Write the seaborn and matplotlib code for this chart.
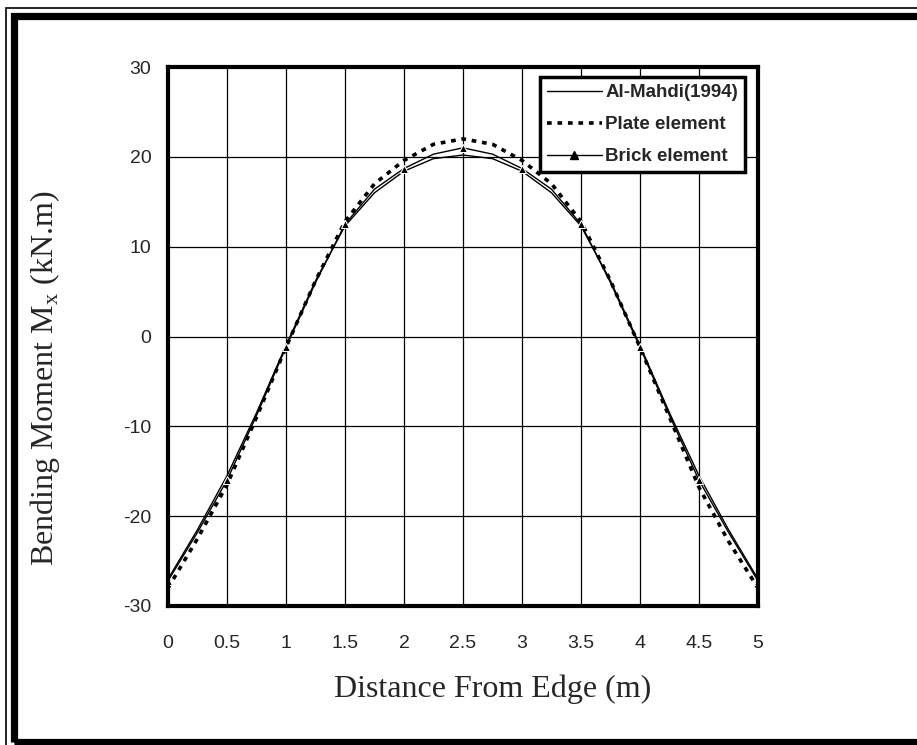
import matplotlib
matplotlib.use("Agg")
import matplotlib.pyplot as plt
import seaborn as sns
import pandas as pd
from matplotlib.patches import Rectangle
from matplotlib.lines import Line2D

# distance from edge (m), read at 0.25 m steps
distance = [0, 0.25, 0.5, 0.75, 1, 1.25, 1.5, 1.75, 2, 2.25, 2.5,
            2.75, 3, 3.25, 3.5, 3.75, 4, 4.25, 4.5, 4.75, 5]
al_mahdi = [-27.0, -21.5, -15.5, -8.5, -1.0, 6.2, 12.3, 16.0, 18.4, 19.8, 20.2,
            19.8, 18.4, 16.0, 12.3, 6.2, -1.0, -8.5, -15.5, -21.5, -27.0]
plate = [-28.0, -22.5, -16.5, -9.0, -1.2, 6.2, 12.8, 17.0, 19.6, 21.4, 22.0,
         21.4, 19.6, 17.0, 12.8, 6.2, -1.2, -9.0, -16.8, -22.8, -28.0]
brick = [-27.2, -21.8, -16.0, -8.8, -1.2, 6.0, 12.5, 16.4, 18.7, 20.3, 21.0,
         20.3, 18.7, 16.4, 12.5, 6.0, -1.2, -8.8, -16.0, -21.8, -27.2]

x_ticks = [0, 0.5, 1, 1.5, 2, 2.5, 3, 3.5, 4, 4.5, 5]
x_tick_labels = ["0", "0.5", "1", "1.5", "2", "2.5", "3", "3.5", "4", "4.5", "5"]
y_ticks = [-30, -20, -10, 0, 10, 20, 30]

df = pd.DataFrame({"x": distance, "mahdi": al_mahdi, "plate": plate, "brick": brick})

sns.set_style("white")
plt.rcParams["font.family"] = ["Liberation Sans", "DejaVu Sans"]
plt.rcParams["axes.unicode_minus"] = False

W, H = 917, 745
fig = plt.figure(figsize=(W / 100, H / 100), dpi=100)
ax = fig.add_axes([168 / W, 1 - 606 / H, 590 / W, 539 / H])

dots = (0, (1.3, 1.6))
sns.lineplot(data=df, x="x", y="mahdi", ax=ax, color="black", linewidth=1.0, sort=False)
sns.lineplot(data=df, x="x", y="plate", ax=ax, color="black", linewidth=2.6,
             linestyle=dots, sort=False)
sns.lineplot(data=df, x="x", y="brick", ax=ax, color="black", linewidth=1.0, sort=False,
             marker="^", markersize=6, markevery=2)

ax.set_xlim(0, 5)
ax.set_ylim(-30, 30)
ax.set_xticks(x_ticks)
ax.set_xticklabels(x_tick_labels)
ax.set_yticks(y_ticks)
ax.grid(True, color="black", linewidth=0.9)
for s in ax.spines.values():
    s.set_linewidth(3)
    s.set_color("black")
ax.tick_params(axis="both", direction="out", length=4, width=2.5, color="black",
               labelsize=14)
ax.tick_params(axis="x", pad=17)
ax.tick_params(axis="y", pad=8)
ax.set_xlabel("")
ax.set_ylabel("")

serif = ["Liberation Serif", "DejaVu Serif"]
fig.text(493 / W, 1 - 689 / H, "Distance From Edge (m)", family=serif, fontsize=23,
         ha="center", va="center")
fig.text(45 / W, 1 - 190 / H, "Bending Moment M$_\\mathregular{x}$ (kN.m)", family=serif,
         fontsize=23, rotation=90, ha="center", va="top")

handles = [
    Line2D([], [], color="black", linewidth=1.0),
    Line2D([], [], color="black", linewidth=2.6, linestyle=dots),
    Line2D([], [], color="black", linewidth=1.0, marker="^", markersize=6),
]
leg = ax.legend(handles, ["Al-Mahdi(1994)", "Plate element", "Brick element"],
                loc="upper right", bbox_to_anchor=((745 - 168) / 590, (606 - 77) / 539),
                frameon=True, fancybox=False, prop={"weight": "bold", "size": 13.5},
                handlelength=2.9, handletextpad=0.2, borderpad=0.37, labelspacing=0.8,
                borderaxespad=0)
leg.get_frame().set_edgecolor("black")
leg.get_frame().set_linewidth(2.5)
leg.get_frame().set_alpha(1)

# double frame round the figure
fig.patches.append(Rectangle((6 / W, 1 - 748 / H), 920 / W, 740 / H, transform=fig.transFigure,
                             fill=False, edgecolor="black", linewidth=1.2))
fig.patches.append(Rectangle((13.5 / W, 1 - 742 / H), 920 / W, 726 / H, transform=fig.transFigure,
                             fill=False, edgecolor="black", linewidth=5.2))

fig.savefig("out.png", dpi=100)
